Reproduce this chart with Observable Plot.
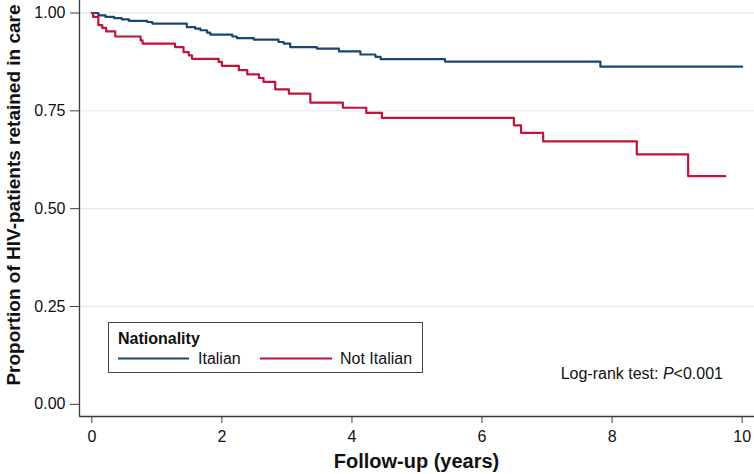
<!DOCTYPE html>
<html>
<head>
<meta charset="utf-8">
<script src="https://cdn.jsdelivr.net/npm/d3@7"></script>
<script src="https://cdn.jsdelivr.net/npm/@observablehq/plot@0.6"></script>
<style>
  body { margin: 0; background: #fff; }
  #chart { position: relative; width: 754px; height: 474px; }
</style>
</head>
<body>
<div id="chart"></div>
<script>
// ---- data ----
const italianTime = [0, 0.10, 0.21, 0.34, 0.46, 0.57, 0.85, 0.93, 1.46, 1.59, 1.67, 1.77, 1.82, 2.16, 2.23, 2.49, 2.87, 2.95, 3.05, 3.46, 3.80, 4.13, 4.36, 4.44, 5.43, 7.82, 10.0];
const italianSurv = [1.0, 0.994, 0.990, 0.987, 0.984, 0.980, 0.977, 0.973, 0.964, 0.960, 0.956, 0.950, 0.945, 0.940, 0.936, 0.932, 0.926, 0.922, 0.913, 0.909, 0.902, 0.894, 0.888, 0.882, 0.876, 0.863, 0.863];
const notItalianTime = [0, 0.02, 0.10, 0.16, 0.22, 0.36, 0.75, 0.78, 1.28, 1.41, 1.49, 1.54, 1.95, 2.00, 2.26, 2.39, 2.57, 2.64, 2.82, 3.03, 3.36, 3.86, 4.22, 4.46, 6.49, 6.60, 6.94, 8.38, 9.17, 9.74];
const notItalianSurv = [1.0, 0.990, 0.969, 0.962, 0.953, 0.940, 0.930, 0.922, 0.913, 0.900, 0.892, 0.883, 0.875, 0.865, 0.854, 0.843, 0.834, 0.824, 0.805, 0.794, 0.771, 0.758, 0.745, 0.732, 0.713, 0.694, 0.672, 0.639, 0.583, 0.583];
const groups = ["Italian", "Not Italian"];
const groupColors = ["#1b4670", "#c4113a"];
const xTicks = [0, 2, 4, 6, 8, 10];
const yTicks = [0, 0.25, 0.5, 0.75, 1];
const gridTicks = [0.25, 0.5, 0.75, 1];
const xTitle = "Follow-up (years)";
const yTitle = "Proportion of HIV-patients retained in care";
const legendTitle = "Nationality";
const testLabel = "Log-rank test: ";
const testP = "P";
const testValue = "<0.001";

// ---- build table ----
const rows = [
  ...italianTime.map((t, i) => ({t, s: italianSurv[i], g: groups[0]})),
  ...notItalianTime.map((t, i) => ({t, s: notItalianSurv[i], g: groups[1]}))
];

const xDomain = [-0.19, 10.19];
const yDomain = [-0.031, 1.032];
const font = "'Liberation Sans', Arial, Helvetica, sans-serif";
const axisColor = "#3a3a3a";

const plot = Plot.plot({
  width: 754,
  height: 474,
  marginLeft: 79,
  marginRight: 0,
  marginTop: 0,
  marginBottom: 58,
  style: {fontFamily: font, fontSize: "16px", background: "white", color: "#111"},
  x: {domain: xDomain},
  y: {domain: yDomain},
  color: {domain: groups, range: groupColors},
  marks: [
    Plot.gridY(gridTicks, {stroke: "#e3edf1", strokeOpacity: 1, strokeWidth: 1.4}),
    Plot.line(rows, {x: "t", y: "s", z: "g", stroke: "g", curve: "step-after", strokeWidth: 2.2}),
    Plot.ruleX([xDomain[0]], {stroke: axisColor, strokeWidth: 1.3}),
    Plot.ruleY([yDomain[0]], {stroke: axisColor, strokeWidth: 1.3}),
    Plot.axisY(yTicks, {tickSize: 9, tickPadding: 5, tickFormat: d3.format(".2f"), fontSize: 16, label: null, stroke: axisColor, fill: "#111"}),
    Plot.axisX(xTicks, {tickSize: 7, tickPadding: 7, tickFormat: d3.format("d"), fontSize: 16, label: null, stroke: axisColor, fill: "#111"})
  ]
});

document.getElementById("chart").appendChild(plot);
const svg = d3.select(plot);

// axis titles
svg.append("text")
  .attr("x", 416.5).attr("y", 467.5)
  .attr("text-anchor", "middle")
  .style("font-family", font).style("font-size", "20px").style("font-weight", "bold").style("fill", "#111")
  .text(xTitle);
svg.append("text")
  .attr("transform", "translate(20,195) rotate(-90)")
  .attr("text-anchor", "middle")
  .style("font-family", font).style("font-size", "19px").style("font-weight", "bold").style("fill", "#111")
  .text(yTitle);

// legend
const lg = svg.append("g").attr("text-anchor", "start");
lg.append("rect").attr("x", 108.5).attr("y", 322.5).attr("width", 314).attr("height", 50)
  .attr("fill", "white").attr("stroke", "#444").attr("stroke-width", 1);
lg.append("text").attr("x", 118).attr("y", 343.5).attr("text-anchor", "start")
  .style("font-family", font).style("font-size", "16px").style("font-weight", "bold").style("fill", "#111")
  .text(legendTitle);
const legX = [[118, 189, 198], [260, 332, 340]];
groups.forEach((g, i) => {
  lg.append("line").attr("x1", legX[i][0]).attr("x2", legX[i][1]).attr("y1", 358.5).attr("y2", 358.5)
    .attr("stroke", groupColors[i]).attr("stroke-width", 2);
  lg.append("text").attr("x", legX[i][2]).attr("y", 364).attr("text-anchor", "start")
    .style("font-family", font).style("font-size", "16px").style("fill", "#111")
    .text(g);
});

// annotation
const ann = svg.append("text").attr("x", 723).attr("y", 379).attr("text-anchor", "end")
  .style("font-family", font).style("font-size", "16px").style("fill", "#111");
ann.append("tspan").text(testLabel);
ann.append("tspan").style("font-style", "italic").text(testP);
ann.append("tspan").text(testValue);
</script>
</body>
</html>
